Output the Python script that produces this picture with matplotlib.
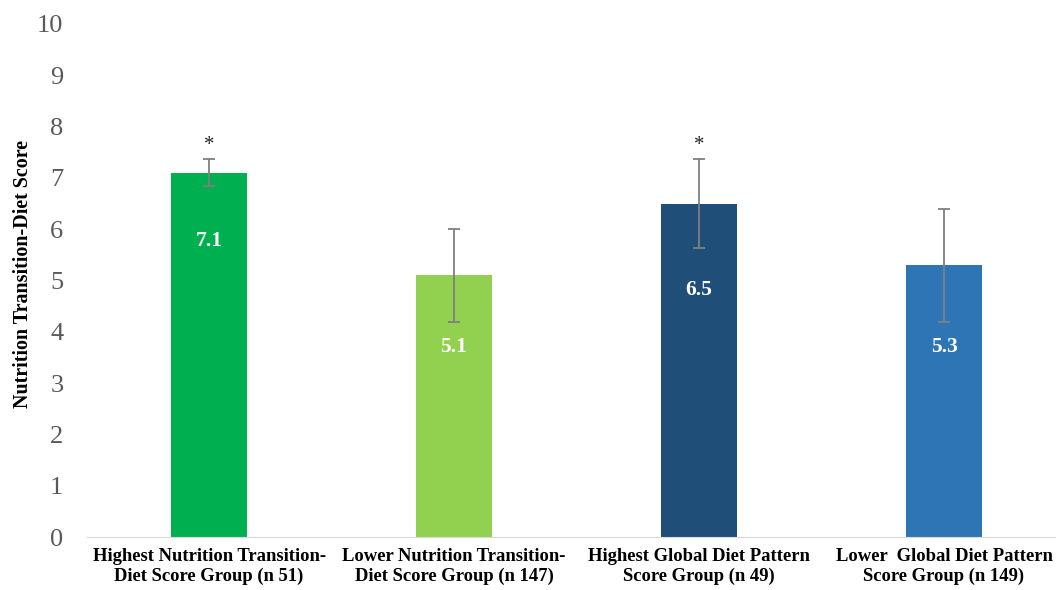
import numpy as np
from matplotlib import pyplot as plt

# data
groups = ['Highest Nutrition Transition-\nDiet Score Group (n 51)',
          'Lower Nutrition Transition-\nDiet Score Group (n 147)',
          'Highest Global Diet Pattern\nScore Group (n 49)',
          'Lower  Global Diet Pattern\nScore Group (n 149)']
scores = [7.1, 5.1, 6.5, 5.3]
errors = [0.26, 0.9, 0.86, 1.1]
signif = ['*', '', '*', '']

# styling
colors = ['#00B050', '#92D050', '#1F4E79', '#2E75B6']
label_y = [5.77, 3.70, 4.81, 3.70]

plt.rcParams['font.family'] = ['Liberation Serif', 'DejaVu Serif']

fig = plt.figure(figsize=(10.56, 5.9), dpi=100)
ax = fig.add_axes([87/1056, 1 - 537/590, (1056-87)/1056, (537-24)/590])

x = np.arange(len(scores))
ax.bar(x, scores, width=0.314, color=colors, zorder=2)
ax.errorbar(x, scores, yerr=errors, fmt='none', ecolor='#7f7f7f',
            elinewidth=1.3, capsize=4, capthick=1.3, zorder=3)

for xi, s, e, star, ly in zip(x, scores, errors, signif, label_y):
    ax.text(xi, ly, f'{s}', ha='center', va='center', color='white',
            fontsize=15.5, fontweight='bold', zorder=4)
    if star:
        ax.text(xi, s + e + 0.28, star, ha='center', va='center',
                fontsize=15, color='#262626')

ax.set_xlim(-0.498, 3.457)
ax.set_ylim(0, 10)
ax.set_yticks(range(0, 11))
ax.set_xticks(x)
ax.set_xticklabels(groups, fontsize=13.4, fontweight='bold')
ax.tick_params(axis='y', length=0, labelsize=19, labelcolor='#595959', pad=17)
ax.tick_params(axis='x', length=0, pad=8)

# y label placed by hand so it sits where the reference has it
fig.text(23/1056, 1 - 274/590, 'Nutrition Transition-Diet Score', rotation=90,
         ha='center', va='center', fontsize=14.4, fontweight='bold')

for side in ['top', 'right', 'left']:
    ax.spines[side].set_visible(False)
ax.spines['bottom'].set_color('#d9d9d9')

plt.savefig('out.png', dpi=100)
